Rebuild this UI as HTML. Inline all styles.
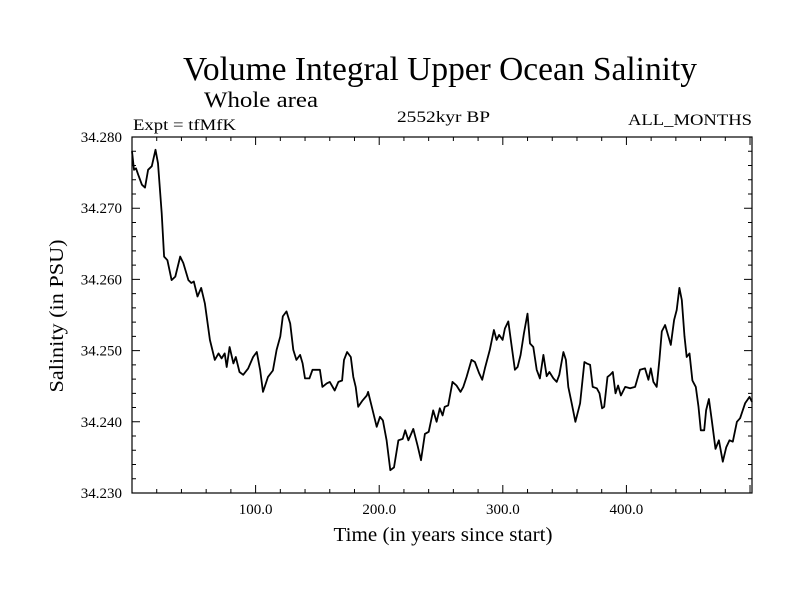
<!DOCTYPE html>
<html><head><meta charset="utf-8"><style>
html,body{margin:0;padding:0;background:#fff;}
svg{display:block;font-family:"Liberation Serif",serif;}
</style></head><body>
<svg id="chart" width="800" height="600" viewBox="0 0 800 600" xmlns="http://www.w3.org/2000/svg">
<text x="440" y="80" font-size="34" text-anchor="middle" textLength="514" lengthAdjust="spacingAndGlyphs">Volume Integral Upper Ocean Salinity</text>
<text x="204" y="107" font-size="22" textLength="114" lengthAdjust="spacingAndGlyphs">Whole area</text>
<text x="133" y="130" font-size="16" textLength="103" lengthAdjust="spacingAndGlyphs">Expt = tfMfK</text>
<text x="397" y="122" font-size="16" textLength="93" lengthAdjust="spacingAndGlyphs">2552kyr BP</text>
<text x="752" y="125" font-size="16" text-anchor="end" textLength="124" lengthAdjust="spacingAndGlyphs">ALL_MONTHS</text>
<text x="443" y="541" font-size="20" text-anchor="middle" textLength="219" lengthAdjust="spacingAndGlyphs">Time (in years since start)</text>
<text transform="translate(63,316) rotate(-90)" font-size="20" text-anchor="middle" textLength="153" lengthAdjust="spacingAndGlyphs">Salinity (in PSU)</text>
<g id="axes"></g>
<g id="series"></g>
</svg>
<script>
const years=[0,1.6,3.2,5,8,10.5,13,16,19,21,24,26,28.6,32,35,39,41.5,45.6,48,50,53,56,59,63,67,70,72.5,75,76.6,79,82,84,87,90,94,98,101,103.6,106,110,114,117,120,122,125,128,130.5,133,136,138,140,143.5,146,149,152,154,157.5,160,164,167,170,171.5,174,177,179,181,183,186.6,190,191,194,198,200.6,203,206,209,212,215.5,219,221,223.6,227.6,231,233.8,237,240,243.7,246.4,249,251.3,253,255.8,259.3,262.5,265.8,268,270.7,274.7,277.4,280.9,283.3,285.5,289.5,292.8,295,297,299.8,301.7,304.4,306.5,309.8,312,314.4,317.1,320,322,324.7,327.4,330,332.8,335.5,337.7,340.9,343.6,345.7,349,351,353,355.7,358.7,362.5,366,367.9,370.6,372.7,376,378.2,380.3,382,384.7,386.9,389,391.2,393.3,395.5,399,403,407,411,415,417.8,419.7,421.8,424.5,426.7,428.6,431.3,434,435.9,438.6,440.7,442.9,444.8,447,448.8,451,453.4,456.1,458.3,460.2,462.9,464.5,466.7,469.1,472.1,474.8,478,480.7,483.4,486.1,489.4,492,496,499.6,501.6];
const salinity=[34.2780,34.2754,34.2756,34.2747,34.2733,34.2729,34.2754,34.2759,34.2782,34.2763,34.2693,34.2632,34.2627,34.2599,34.2604,34.2632,34.2623,34.2599,34.2595,34.2597,34.2576,34.2588,34.2566,34.2515,34.2487,34.2496,34.2489,34.2496,34.2477,34.2505,34.2482,34.2491,34.2470,34.2466,34.2475,34.2491,34.2498,34.2473,34.2442,34.2463,34.2472,34.2501,34.2520,34.2548,34.2555,34.2538,34.2501,34.2487,34.2494,34.2482,34.2461,34.2461,34.2473,34.2473,34.2473,34.2449,34.2454,34.2456,34.2444,34.2456,34.2458,34.2487,34.2498,34.2491,34.2463,34.2449,34.2421,34.2430,34.2437,34.2442,34.2421,34.2393,34.2407,34.2402,34.2374,34.2332,34.2336,34.2374,34.2376,34.2388,34.2374,34.2390,34.2367,34.2346,34.2383,34.2386,34.2416,34.2400,34.2419,34.2409,34.2421,34.2423,34.2456,34.2451,34.2442,34.2449,34.2463,34.2487,34.2484,34.2468,34.2459,34.2475,34.2501,34.2529,34.2515,34.2522,34.2515,34.2531,34.2541,34.2515,34.2473,34.2477,34.2494,34.2524,34.2552,34.2510,34.2505,34.2473,34.2461,34.2494,34.2464,34.2470,34.2461,34.2456,34.2466,34.2498,34.2487,34.2449,34.2426,34.2400,34.2426,34.2484,34.2482,34.2480,34.2449,34.2447,34.2440,34.2419,34.2421,34.2463,34.2466,34.2470,34.2440,34.2451,34.2437,34.2449,34.2447,34.2449,34.2473,34.2475,34.2459,34.2475,34.2456,34.2449,34.2487,34.2527,34.2536,34.2520,34.2508,34.2543,34.2557,34.2588,34.2571,34.2520,34.2491,34.2496,34.2458,34.2449,34.2421,34.2388,34.2388,34.2416,34.2432,34.2402,34.2362,34.2374,34.2344,34.2364,34.2374,34.2372,34.2400,34.2405,34.2426,34.2435,34.2428];
const xTickValues=[100,200,300,400];
const xTickLabels=["100.0","200.0","300.0","400.0"];
const yTickValues=[34.23,34.24,34.25,34.26,34.27,34.28];
const yTickLabels=["34.230","34.240","34.250","34.260","34.270","34.280"];
const X0=0,X1=501.6,Y0=34.23,Y1=34.28;
const L=132,R=752,T=137,B=493;
const sx=v=>L+(v-X0)/(X1-X0)*(R-L);
const sy=v=>B-(v-Y0)/(Y1-Y0)*(B-T);
const NS="http://www.w3.org/2000/svg";
const axes=document.getElementById('axes');
function mk(tag,attrs,parent){const e=document.createElementNS(NS,tag);for(const k in attrs)e.setAttribute(k,attrs[k]);parent.appendChild(e);return e;}
const frame=mk('rect',{x:L,y:T,width:R-L,height:B-T,fill:'none',stroke:'#000','stroke-width':1.2},axes);


let tp="";
for(let v=20;v<X1;v+=20){const x=sx(v);const len=(v%100===0)?8:4;tp+=`M${x},${B}V${B-len}M${x},${T}V${T+len}`;}
for(let i=0;i<=25;i++){const v=Y0+i*0.002;const y=sy(v);const len=(i%5===0)?8:4;tp+=`M${L},${y}H${L+len}M${R},${y}H${R-len}`;}
const ticks=mk('path',{d:tp,stroke:'#000','stroke-width':1,fill:'none'},axes);


xTickValues.forEach((v,i)=>{const t=mk('text',{x:sx(v),y:514,'font-size':15,'text-anchor':'middle'},axes);t.textContent=xTickLabels[i];

});
yTickValues.forEach((v,i)=>{const t=mk('text',{x:122,y:sy(v)+5,'font-size':15,'text-anchor':'end'},axes);t.textContent=yTickLabels[i];

});
let d="";years.forEach((yr,i)=>{d+=(i?"L":"M")+sx(yr).toFixed(1)+","+sy(salinity[i]).toFixed(1);});
const line=mk('path',{d:d,fill:'none',stroke:'#000','stroke-width':1.8,'stroke-linejoin':'round'},document.getElementById('series'));


</script>
</body></html>
